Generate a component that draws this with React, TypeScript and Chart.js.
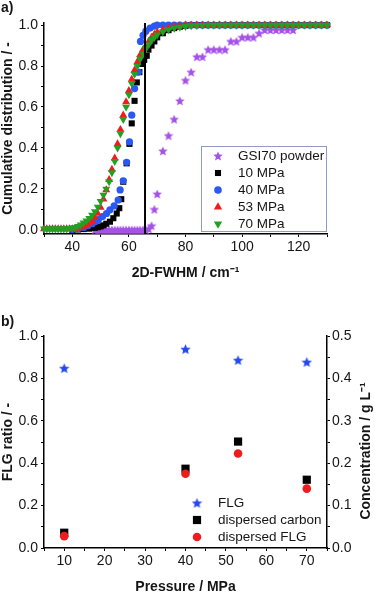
import React, { useEffect, useRef } from 'react';
import { Chart, registerables } from 'chart.js';
import { drawPoint } from 'chart.js/helpers';

Chart.register(...registerables);

const FONT = "'Liberation Sans', Arial, sans-serif";
const TXT = '#151515';

// ---------- Panel a: cumulative distribution of 2D-FWHM ----------
const gsiX = [48, 49, 50, 51, 52, 53, 54, 55, 56, 57, 58, 59, 60, 61, 62, 63, 64, 65, 66, 67, 68, 69, 70, 72, 74, 76, 78, 80, 82, 84, 86, 88, 90, 92, 94, 96, 98, 100, 102, 104, 106, 108, 110, 112, 114, 116, 118];
const gsiY = [0, 0, 0, 0, 0, 0, 0, 0, 0, 0, 0, 0, 0, 0, 0, 0, 0, 0, 0, 0.005, 0.02, 0.1, 0.175, 0.385, 0.46, 0.54, 0.63, 0.73, 0.77, 0.845, 0.845, 0.88, 0.88, 0.88, 0.88, 0.92, 0.92, 0.94, 0.94, 0.94, 0.96, 0.976, 0.976, 0.976, 0.976, 0.976, 0.976];

const p10X = [40, 42, 44, 46, 48, 49, 50, 51, 52, 53.3, 54.5, 55.7, 56.6, 57.3, 58, 59.2, 60.2, 61, 62, 62.8, 63.7, 64.6, 65.4, 66.3, 66.9, 68, 69, 70, 72, 74, 76, 78, 80, 82, 84, 86, 88, 90, 92, 94, 96, 98, 100, 102, 104, 106, 108, 110, 112, 114, 116, 118, 120, 122, 124, 126, 128, 130];
const p10Y = [0, 0.002, 0.004, 0.006, 0.01, 0.013, 0.017, 0.022, 0.03, 0.04, 0.057, 0.08, 0.106, 0.15, 0.235, 0.325, 0.42, 0.52, 0.63, 0.72, 0.77, 0.81, 0.83, 0.85, 0.88, 0.9, 0.92, 0.94, 0.96, 0.975, 0.985, 0.992, 0.996, 1, 1, 1, 1, 1, 1, 1, 1, 1, 1, 1, 1, 1, 1, 1, 1, 1, 1, 1, 1, 1, 1, 1, 1, 1];

const p40X = [40, 42, 44, 45.5, 47, 48, 49.2, 50.7, 52.1, 53.3, 54.8, 56.2, 56.9, 58, 59.2, 60.2, 61, 62, 63.3, 64.1, 65, 66, 67.5, 69, 70, 72, 74, 76, 78, 80, 82, 84, 86, 88, 90, 92, 94, 96, 98, 100, 102, 104, 106, 108, 110, 112, 114, 116, 118, 120, 122, 124, 126, 128, 130];
const p40Y = [0.003, 0.006, 0.012, 0.02, 0.03, 0.04, 0.05, 0.065, 0.08, 0.098, 0.117, 0.146, 0.195, 0.24, 0.33, 0.43, 0.56, 0.69, 0.77, 0.92, 0.95, 0.97, 0.985, 0.995, 1, 1, 1, 1, 1, 1, 1, 1, 1, 1, 1, 1, 1, 1, 1, 1, 1, 1, 1, 1, 1, 1, 1, 1, 1, 1, 1, 1, 1, 1, 1];

const p53X = [30, 31, 32, 33, 34, 35, 36, 37, 38, 39, 40, 41, 42, 43, 44, 45, 46, 47, 48, 49, 50, 51, 52, 53, 54, 55, 56, 57, 58, 59, 60, 61, 62, 63, 64, 65, 66, 67, 68, 69, 70, 72, 74, 76, 78, 80, 82, 84, 86, 88, 90, 92, 94, 96, 98, 100, 102, 104, 106, 108, 110, 112, 114, 116, 118, 120, 122, 124, 126, 128, 130];
const p53Y = [0.005, 0.005, 0.005, 0.005, 0.005, 0.005, 0.005, 0.005, 0.005, 0.005, 0.005, 0.006, 0.008, 0.012, 0.018, 0.025, 0.033, 0.045, 0.06, 0.08, 0.11, 0.15, 0.195, 0.245, 0.295, 0.35, 0.42, 0.49, 0.56, 0.625, 0.68, 0.735, 0.78, 0.82, 0.855, 0.88, 0.9, 0.92, 0.94, 0.955, 0.965, 0.977, 0.986, 0.992, 0.996, 1, 1, 1, 1, 1, 1, 1, 1, 1, 1, 1, 1, 1, 1, 1, 1, 1, 1, 1, 1, 1, 1, 1, 1, 1, 1];

const p70X = [30, 31, 32, 33, 34, 35, 36, 37, 38, 39, 40, 41, 42, 43, 44, 45, 46, 47, 48, 49, 50, 51, 52, 53, 54, 55, 56, 57, 58, 59, 60, 61, 62, 63, 64, 65, 66, 67, 68, 69, 70, 72, 74, 76, 78, 80, 82, 84, 86, 88, 90, 92, 94, 96, 98, 100, 102, 104, 106, 108, 110, 112, 114, 116, 118, 120, 122, 124, 126, 128, 130];
const p70Y = [0.005, 0.005, 0.005, 0.005, 0.005, 0.005, 0.005, 0.005, 0.005, 0.008, 0.01, 0.012, 0.018, 0.025, 0.035, 0.045, 0.057, 0.072, 0.09, 0.112, 0.14, 0.17, 0.2, 0.235, 0.28, 0.335, 0.4, 0.47, 0.54, 0.6, 0.66, 0.715, 0.76, 0.8, 0.835, 0.86, 0.885, 0.905, 0.925, 0.94, 0.952, 0.967, 0.977, 0.985, 0.99, 0.994, 0.997, 0.998, 0.999, 1, 1, 1, 1, 1, 1, 1, 1, 1, 1, 1, 1, 1, 1, 1, 1, 1, 1, 1, 1, 1, 1];

const cutoffX = [65.7, 65.7];
const cutoffY = [-0.02, 1.01];

const aXTicks = [40, 60, 80, 100, 120];

// ---------- Panel b: FLG ratio & concentration vs pressure ----------
const pressure = [10, 40, 53, 70];
const flgRatio = [0.848, 0.938, 0.886, 0.877];
const dispersedCarbon = [0.036, 0.187, 0.251, 0.161];
const dispersedFLG = [0.028, 0.175, 0.223, 0.14];

const COL = {
  purple: '#a552e8',
  black: '#000000',
  blue: '#2a58f2',
  red: '#ee1c1c',
  green: '#22a022',
  starBlue: '#2648f0',
};

function pts(xs: number[], ys: number[]) {
  return xs.map((x, i) => ({ x, y: ys[i] }));
}

function makeStar(color: string, size: number) {
  const c = document.createElement('canvas');
  c.width = size;
  c.height = size;
  const g = c.getContext('2d')!;
  g.fillStyle = color;
  g.beginPath();
  const R = size / 2;
  const r = R * 0.45;
  const cx = size / 2;
  const cy = size / 2 + 0.4;
  for (let i = 0; i < 10; i++) {
    const ang = -Math.PI / 2 + (i * Math.PI) / 5;
    const rad = i % 2 === 0 ? R : r;
    const x = cx + rad * Math.cos(ang);
    const y = cy + rad * Math.sin(ang);
    if (i === 0) g.moveTo(x, y);
    else g.lineTo(x, y);
  }
  g.closePath();
  g.fill();
  return c;
}

function isMult(v: number, s: number) {
  const q = v / s;
  return Math.abs(q - Math.round(q)) < 1e-6;
}

function baseAxis(extra: any) {
  return {
    border: { display: true, color: '#000', width: 1.5 },
    grid: { drawOnChartArea: false, drawTicks: true, tickLength: 3, color: '#000', lineWidth: 1 },
    ...extra,
    ticks: {
      color: TXT,
      font: { family: FONT, size: 14 },
      autoSkip: false,
      maxRotation: 0,
      minRotation: 0,
      ...(extra.ticks || {}),
    },
  };
}

type LegendItem = { label: string; style: any; color: string; radius: number; rotation?: number };

function legendPlugin(id: string, items: LegendItem[], mx: number, tx: number, rows: number[], box?: number[]) {
  return {
    id,
    afterDraw(chart: any) {
      const ctx = chart.ctx as CanvasRenderingContext2D;
      ctx.save();
      if (box) {
        ctx.strokeStyle = '#8d9ccb';
        ctx.lineWidth = 1;
        ctx.strokeRect(box[0] + 0.5, box[1] + 0.5, box[2] - box[0], box[3] - box[1]);
      }
      items.forEach((it, i) => {
        ctx.fillStyle = it.color;
        ctx.strokeStyle = it.color;
        drawPoint(ctx, { pointStyle: it.style, rotation: it.rotation || 0, radius: it.radius, borderWidth: 0 } as any, mx, rows[i]);
        ctx.fillStyle = TXT;
        ctx.font = `13.5px ${FONT}`;
        ctx.textAlign = 'left';
        ctx.textBaseline = 'middle';
        ctx.fillText(it.label, tx, rows[i]);
      });
      ctx.restore();
    },
  };
}

function textPlugin(id: string, draws: { text: string; x: number; y: number; rot?: number; align?: CanvasTextAlign }[]) {
  return {
    id,
    afterDraw(chart: any) {
      const ctx = chart.ctx as CanvasRenderingContext2D;
      draws.forEach((d) => {
        ctx.save();
        ctx.translate(d.x, d.y);
        if (d.rot) ctx.rotate(d.rot);
        ctx.font = `bold 14px ${FONT}`;
        ctx.fillStyle = TXT;
        ctx.textAlign = d.align || 'center';
        ctx.textBaseline = 'middle';
        ctx.fillText(d.text, 0, 0);
        ctx.restore();
      });
    },
  };
}

export default function App() {
  const refA = useRef<HTMLCanvasElement>(null);
  const refB = useRef<HTMLCanvasElement>(null);

  useEffect(() => {
    const starA = makeStar(COL.purple, 10);
    const starB = makeStar(COL.starBlue, 11);

    const mk = (label: string, xs: number[], ys: number[], style: any, color: string, radius: number, order: number, rotation = 0) => ({
      label,
      data: pts(xs, ys),
      pointStyle: style,
      pointRadius: radius,
      pointRotation: rotation,
      backgroundColor: color,
      borderColor: color,
      pointBorderWidth: 0,
      showLine: false,
      order,
      clip: false as any,
    });

    const chartA = new Chart(refA.current!, {
      type: 'scatter',
      data: {
        datasets: [
          {
            label: 'cutoff',
            data: pts(cutoffX, cutoffY),
            showLine: true,
            borderColor: '#000',
            borderWidth: 2,
            pointRadius: 0,
            order: 0,
            clip: false as any,
          } as any,
          mk('70 MPa', p70X, p70Y, 'triangle', COL.green, 4.6, 1, 180),
          mk('53 MPa', p53X, p53Y, 'triangle', COL.red, 4.6, 2),
          mk('40 MPa', p40X, p40Y, 'circle', COL.blue, 3.6, 3),
          mk('10 MPa', p10X, p10Y, 'rect', COL.black, 4.3, 4),
          mk('GSI70 powder', gsiX, gsiY, starA, COL.purple, 5, 5),
        ],
      },
      options: {
        responsive: false,
        animation: false,
        devicePixelRatio: 1,
        events: [],
        layout: { padding: { left: 0, right: 48, top: 23, bottom: 0 } },
        plugins: { legend: { display: false }, tooltip: { enabled: false } },
        scales: {
          x: baseAxis({
            type: 'linear',
            min: 30,
            max: 130,
            afterFit: (s: any) => { s.height = 61; },
            ticks: {
              stepSize: 10,
              padding: 2,
              callback: (v: any) => (aXTicks.includes(Number(v)) ? String(v) : ''),
            },
            title: {
              display: true,
              text: '2D-FWHM / cm⁻¹',
              color: TXT,
              font: { family: FONT, size: 14, weight: 'bold' },
              padding: { top: 0, bottom: 13.6 },
            },
          }),
          y: baseAxis({
            type: 'linear',
            min: -0.02,
            max: 1.01,
            afterFit: (s: any) => { s.width = 44; },
            ticks: {
              stepSize: 0.1,
              includeBounds: false,
              padding: 3,
              callback: (v: any) => (isMult(Number(v), 0.2) ? Number(v).toFixed(1) : ''),
            },
            title: {
              display: true,
              text: 'Cumulative distribution / -',
              color: TXT,
              font: { family: FONT, size: 14, weight: 'bold' },
              padding: { top: 0, bottom: 0 },
            },
          }),
        },
      },
      plugins: [
        legendPlugin(
          'legA',
          [
            { label: 'GSI70 powder', style: starA, color: COL.purple, radius: 5 },
            { label: '10 MPa', style: 'rect', color: COL.black, radius: 4.3 },
            { label: '40 MPa', style: 'circle', color: COL.blue, radius: 3.8 },
            { label: '53 MPa', style: 'triangle', color: COL.red, radius: 4.8 },
            { label: '70 MPa', style: 'triangle', color: COL.green, radius: 4.8, rotation: 180 },
          ],
          218,
          238,
          [156, 173, 190, 207, 224],
          [201, 146, 326, 231]
        ),
        textPlugin('labA', [{ text: 'a)', x: 1, y: 8, align: 'left' }]),
      ],
    } as any);

    const chartB = new Chart(refB.current!, {
      type: 'scatter',
      data: {
        datasets: [
          { ...mk('dispersed FLG', pressure, dispersedFLG, 'circle', COL.red, 4.3, 0), yAxisID: 'y2' },
          { ...mk('dispersed carbon', pressure, dispersedCarbon, 'rect', COL.black, 5.8, 1), yAxisID: 'y2' },
          { ...mk('FLG', pressure, flgRatio, starB, COL.starBlue, 5, 2), yAxisID: 'y' },
        ],
      },
      options: {
        responsive: false,
        animation: false,
        devicePixelRatio: 1,
        events: [],
        layout: { padding: { left: 0, right: 0, top: 41, bottom: 0 } },
        plugins: { legend: { display: false }, tooltip: { enabled: false } },
        scales: {
          x: baseAxis({
            type: 'linear',
            min: 5,
            max: 75,
            afterFit: (s: any) => { s.height = 46; },
            ticks: {
              stepSize: 5,
              padding: 2,
              callback: (v: any) => (isMult(Number(v), 10) ? String(v) : ''),
            },
            title: {
              display: true,
              text: 'Pressure / MPa',
              color: TXT,
              font: { family: FONT, size: 14, weight: 'bold', lineHeight: 1 },
              padding: { top: 0, bottom: 0 },
            },
          }),
          y: baseAxis({
            type: 'linear',
            position: 'left',
            min: 0,
            max: 1,
            afterFit: (s: any) => { s.width = 44; },
            ticks: {
              stepSize: 0.1,
              padding: 3,
              callback: (v: any) => (isMult(Number(v), 0.2) ? Number(v).toFixed(1) : ''),
            },
            title: {
              display: true,
              text: 'FLG ratio / -',
              color: TXT,
              font: { family: FONT, size: 14, weight: 'bold' },
              padding: { top: 0, bottom: 0 },
            },
          }),
          y2: baseAxis({
            type: 'linear',
            position: 'right',
            min: 0,
            max: 0.5,
            afterFit: (s: any) => { s.width = 48; },
            ticks: {
              stepSize: 0.05,
              padding: 2,
              callback: (v: any) => (isMult(Number(v), 0.1) ? Number(v).toFixed(1) : ''),
            },
          }),
        },
      },
      plugins: [
        legendPlugin(
          'legB',
          [
            { label: 'FLG', style: starB, color: COL.starBlue, radius: 5 },
            { label: 'dispersed carbon', style: 'rect', color: COL.black, radius: 5.8 },
            { label: 'dispersed FLG', style: 'circle', color: COL.red, radius: 4.3 },
          ],
          197,
          218,
          [208, 225, 242]
        ),
        textPlugin('labB', [
          { text: 'b)', x: 1, y: 27, align: 'left' },
          { text: 'Concentration / g L⁻¹', x: 366, y: 156, rot: -Math.PI / 2 },
        ]),
      ],
    } as any);

    return () => {
      chartA.destroy();
      chartB.destroy();
    };
  }, []);

  return (
    <div style={{ position: 'absolute', left: 0, top: 0, width: 375, height: 594, background: '#fff' }}>
      <canvas ref={refA} width={375} height={295} style={{ position: 'absolute', left: 0, top: 0 }} />
      <canvas ref={refB} width={375} height={299} style={{ position: 'absolute', left: 0, top: 295 }} />
    </div>
  );
}
